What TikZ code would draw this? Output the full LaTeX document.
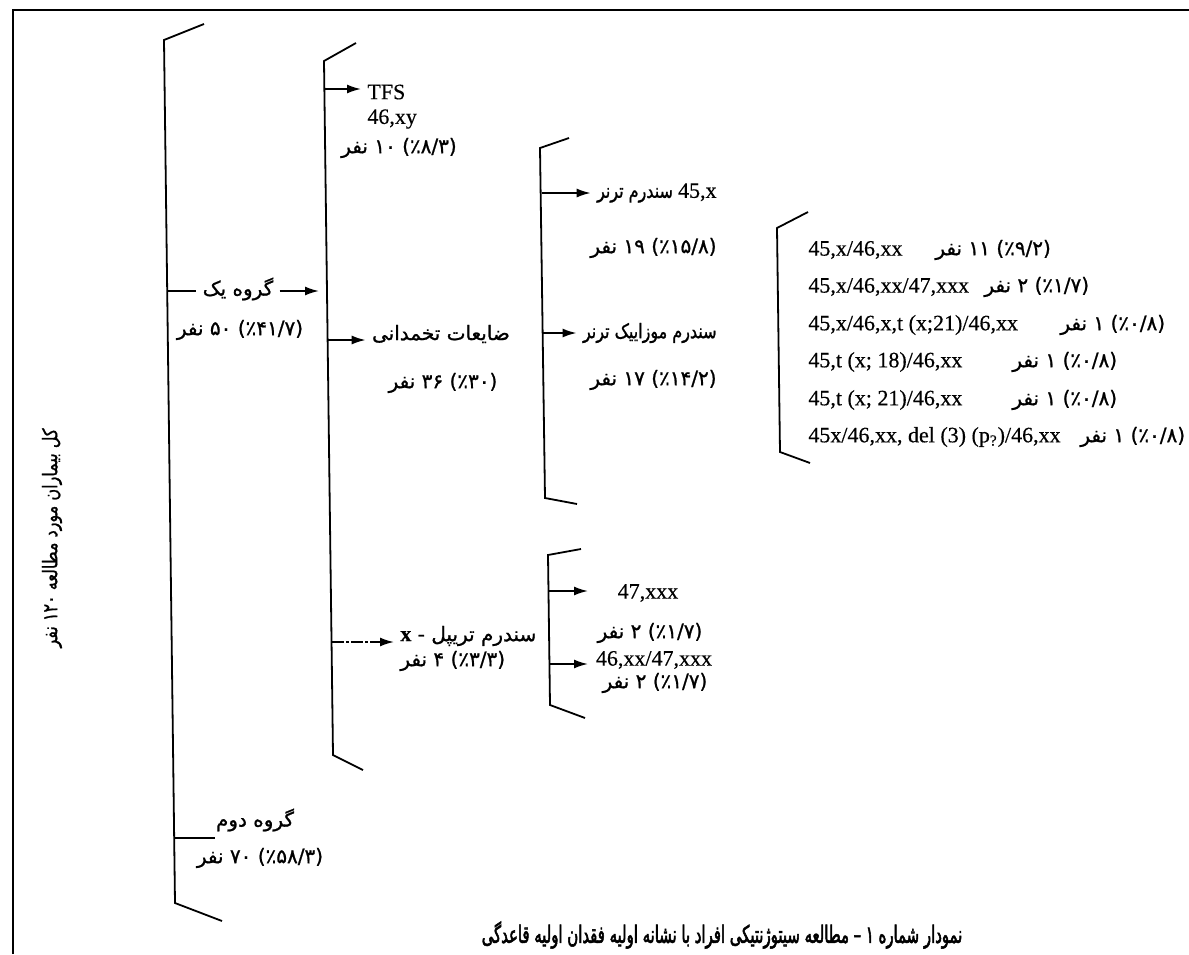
\documentclass[tikz,border=0pt]{standalone}
\usepackage{fontspec}
\setmainfont{Liberation Serif}[FakeBold=0.4]
\newfontfamily\fa[Script=Arabic,FakeBold=1]{DejaVu Sans}
\newfontfamily\fac[Script=Arabic,FakeBold=1,FakeStretch=0.8]{DejaVu Sans}
\newfontfamily\fab[Script=Arabic,FakeBold=2.2,FakeStretch=0.62]{DejaVu Sans}
\TeXXeTstate=1
\usetikzlibrary{arrows.meta}
\newcommand{\myR}[1]{\beginR #1\endR}
\newcommand{\myL}[1]{\beginL #1\endL{}}
\tikzset{
  brk/.style={line width=0.9pt},
  arr/.style={line width=0.9pt,-{Latex[length=7pt,width=4.5pt]}},
  dasharr/.style={arr,dash pattern=on 6pt off 1pt on 1.5pt off 1pt},
  fatext/.style={inner sep=3pt,font=\fa\fontsize{10}{12}\selectfont},
  facond/.style={inner sep=3pt,font=\fac\fontsize{10}{12}\selectfont},
  lat/.style={inner sep=3pt,font=\fontsize{11}{13}\selectfont},
}
\begin{document}
\begin{tikzpicture}[x=0.5pt,y=-0.5pt]
\useasboundingbox (0,0) rectangle (1189,954);
% frame
\draw[line width=0.8pt] (13,954) -- (13,10) -- (1189,10);
% vertical label
\node[facond,rotate=90] (total) at (52,538) {\myR{کل بیماران مورد مطالعه ۱۲۰ نفر}};
% bracket 1
\draw[brk] (204,24) -- (164,40) -- (175,903) -- (222,921);
\coordinate (b1g1) at (167,291);
\coordinate (b1g2) at (175,838);
\node[fatext] (g1) at (238,289) {\myR{گروه یک}};
\node[fatext] (g1n) at (240,330) {\myR{(٪۴۱/۷) ۵۰ نفر}};
\coordinate (b2g1) at (319,291);
\draw[brk] (b1g1) -- (b1g1 -| g1.west);
\draw[arr] (b1g1 -| g1.east) -- (b2g1);
\node[fatext] (g2) at (255,820) {\myR{گروه دوم}};
\node[fatext] (g2n) at (260,858) {\myR{(٪۵۸/۳) ۷۰ نفر}};
\coordinate (g2end) at (215,838);
\draw[brk] (b1g2) -- (g2end);
% bracket 2
\draw[brk] (356,43) -- (324,61) -- (333,755) -- (363,770);
\coordinate (b2t) at (325,89);
\coordinate (b2o) at (328,340);
\coordinate (b2x) at (332,642);
\node[lat,anchor=west] (tfs) at (361,92) {TFS};
\node[lat,anchor=west] (xy) at (361,119) {46,xy};
\node[fatext] (tfsn) at (399,148) {\myR{(٪۸/۳) ۱۰ نفر}};
\draw[arr] (b2t) -- (b2t -| tfs.west);
\node[fatext] (ovary) at (441,334) {\myR{ضایعات تخمدانی}};
\node[fatext] (ovaryn) at (443,383) {\myR{(٪۳۰) ۳۶ نفر}};
\draw[arr] (b2o) -- (b2o -| ovary.west);
\node[fatext,anchor=west] (trx) at (394,636) {\myR{سندرم تریپل - {\rmfamily\bfseries\fontsize{11}{13}\selectfont\myL{x}}}};
\node[fatext,anchor=west] (trxn) at (394,661) {\myR{(٪۳/۳) ۴ نفر}};
\draw[dasharr] (b2x) -- (b2x -| trx.west);
% bracket 3
\draw[brk] (569,138) -- (540,148) -- (545,498) -- (577,504);
\coordinate (b3a) at (542,193);
\coordinate (b3b) at (543,333);
\node[facond,anchor=east] (turner) at (723,193) {\myR{{\rmfamily\fontsize{11}{13}\selectfont\myL{45,x}} سندرم ترنر}};
\node[fatext,anchor=east] (turnern) at (723,248) {\myR{(٪۱۵/۸) ۱۹ نفر}};
\node[facond,anchor=east] (mosaic) at (723,333) {\myR{سندرم موزاییک ترنر}};
\node[fatext,anchor=east] (mosaicn) at (723,380) {\myR{(٪۱۴/۲) ۱۷ نفر}};
\draw[arr] (b3a) -- (b3a -| turner.west);
\draw[arr] (b3b) -- (b3b -| mosaic.west);
% bracket 4
\draw[brk] (808,212) -- (777,228) -- (780,452) -- (810,463);
\node[lat,anchor=west] (k1) at (802,250) {45,x/46,xx};
\node[lat,anchor=west] (k2) at (802,287) {45,x/46,xx/47,xxx};
\node[lat,anchor=west] (k3) at (802,325) {45,x/46,x,t (x;21)/46,xx};
\node[lat,anchor=west] (k4) at (802,362) {45,t (x; 18)/46,xx};
\node[lat,anchor=west] (k5) at (802,400) {45,t (x; 21)/46,xx};
\node[lat,anchor=west] (k6) at (802,437) {45x/46,xx, del (3) (p\textsubscript{?})/46,xx};
\node[fatext,anchor=west] (n1) at (929,250) {\myR{(٪۹/۲) ۱۱ نفر}};
\node[fatext,anchor=west] (n2) at (978,287) {\myR{(٪۱/۷) ۲ نفر}};
\node[fatext,anchor=west] (n3) at (1054,325) {\myR{(٪۰/۸) ۱ نفر}};
\node[fatext,anchor=west] (n4) at (1006,362) {\myR{(٪۰/۸) ۱ نفر}};
\node[fatext,anchor=west] (n5) at (1006,400) {\myR{(٪۰/۸) ۱ نفر}};
\node[fatext,anchor=west] (n6) at (1074,437) {\myR{(٪۰/۸) ۱ نفر}};
% bracket 5
\draw[brk] (581,549) -- (548,555) -- (550,705) -- (585,718);
\coordinate (b5a) at (549,591);
\coordinate (b5b) at (550,664);
\node[lat] (x47) at (648,593) {47,xxx};
\node[fatext] (x47n) at (650,633) {\myR{(٪۱/۷) ۲ نفر}};
\node[lat] (x4647) at (654,660) {46,xx/47,xxx};
\node[fatext] (x4647n) at (655,683) {\myR{(٪۱/۷) ۲ نفر}};
\coordinate (t5a) at (588,591);
\coordinate (t5b) at (588,664);
\draw[arr] (b5a) -- (t5a);
\draw[arr] (b5b) -- (t5b);
% caption
\node[inner sep=0pt,font=\fab\fontsize{12}{14}\selectfont] (cap) at (722,935) {\myR{نمودار شماره ۱ – مطالعه سیتوژنتیکی افراد با نشانه اولیه فقدان اولیه قاعدگی}};
\end{tikzpicture}
\end{document}
